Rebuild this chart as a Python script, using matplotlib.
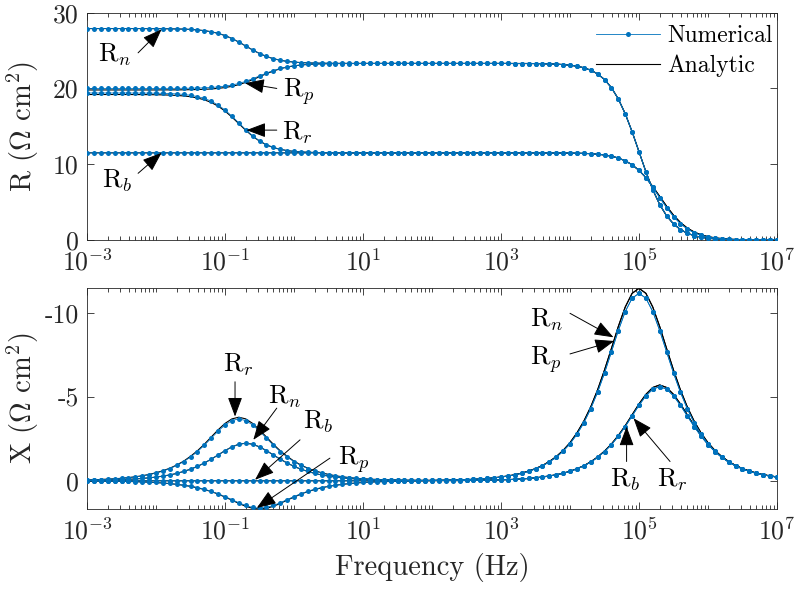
import numpy as np
import matplotlib.pyplot as plt
from matplotlib.ticker import NullFormatter

plt.rcParams['font.family'] = 'cmr10'
plt.rcParams['mathtext.fontset'] = 'cm'
plt.rcParams['axes.formatter.use_mathtext'] = True
plt.rcParams['axes.unicode_minus'] = False

# Frequency grid, 10 points per decade from 1e-3 to 1e7 Hz
freq = np.logspace(-3, 7, 101)

# ---- Resistance R (Ohm cm^2), rows = one decade each ----
R_n_num = [27.90, 27.90, 27.90, 27.90, 27.90, 27.90, 27.90, 27.90, 27.90, 27.89,
           27.89, 27.88, 27.87, 27.85, 27.83, 27.79, 27.72, 27.63, 27.48, 27.27,
           26.98, 26.59, 26.12, 25.60, 25.08, 24.61, 24.22, 23.93, 23.72, 23.57,
           23.48, 23.41, 23.37, 23.35, 23.33, 23.32, 23.31, 23.31, 23.30, 23.30,
           23.30, 23.30, 23.30, 23.30, 23.30, 23.30, 23.30, 23.30, 23.30, 23.30,
           23.30, 23.30, 23.30, 23.30, 23.30, 23.30, 23.30, 23.30, 23.30, 23.30,
           23.30, 23.30, 23.29, 23.29, 23.29, 23.28, 23.26, 23.24, 23.21, 23.15,
           23.07, 22.94, 22.73, 22.41, 21.92, 21.18, 20.11, 18.62, 16.67, 14.29,
           11.65, 9.01, 6.63, 4.68, 3.19, 2.12, 1.38, 0.89, 0.57, 0.36,
           0.23, 0.15, 0.09, 0.06, 0.04, 0.02, 0.01, 0.01, 0.01, 0.00,
           0.00]
R_n_ana = [27.90, 27.90, 27.90, 27.90, 27.90, 27.90, 27.90, 27.90, 27.90, 27.89,
           27.89, 27.88, 27.87, 27.85, 27.83, 27.79, 27.72, 27.63, 27.48, 27.27,
           26.98, 26.59, 26.12, 25.60, 25.08, 24.61, 24.22, 23.93, 23.72, 23.57,
           23.48, 23.41, 23.37, 23.35, 23.33, 23.32, 23.31, 23.31, 23.30, 23.30,
           23.30, 23.30, 23.30, 23.30, 23.30, 23.30, 23.30, 23.30, 23.30, 23.30,
           23.30, 23.30, 23.30, 23.30, 23.30, 23.30, 23.30, 23.30, 23.30, 23.30,
           23.30, 23.30, 23.29, 23.29, 23.29, 23.28, 23.26, 23.24, 23.21, 23.15,
           23.07, 22.94, 22.73, 22.41, 21.92, 21.18, 20.11, 18.62, 16.67, 14.29,
           11.65, 9.01, 6.63, 4.68, 3.19, 2.12, 1.38, 0.89, 0.57, 0.36,
           0.23, 0.15, 0.09, 0.06, 0.04, 0.02, 0.01, 0.01, 0.01, 0.00,
           0.00]
R_p_num = [20.00, 20.00, 20.00, 20.00, 20.00, 20.00, 20.00, 20.00, 20.00, 20.00,
           20.00, 20.01, 20.01, 20.01, 20.02, 20.03, 20.05, 20.08, 20.13, 20.20,
           20.30, 20.45, 20.66, 20.94, 21.28, 21.65, 22.02, 22.36, 22.64, 22.85,
           23.00, 23.10, 23.17, 23.22, 23.25, 23.27, 23.28, 23.29, 23.29, 23.30,
           23.30, 23.30, 23.30, 23.30, 23.30, 23.30, 23.30, 23.30, 23.30, 23.30,
           23.30, 23.30, 23.30, 23.30, 23.30, 23.30, 23.30, 23.30, 23.30, 23.30,
           23.30, 23.30, 23.29, 23.29, 23.29, 23.28, 23.26, 23.24, 23.21, 23.15,
           23.07, 22.94, 22.73, 22.41, 21.92, 21.18, 20.11, 18.62, 16.67, 14.29,
           11.65, 9.01, 6.63, 4.68, 3.19, 2.12, 1.38, 0.89, 0.57, 0.36,
           0.23, 0.15, 0.09, 0.06, 0.04, 0.02, 0.01, 0.01, 0.01, 0.00,
           0.00]
R_p_ana = [19.80, 19.80, 19.80, 19.80, 19.80, 19.80, 19.80, 19.80, 19.80, 19.80,
           19.80, 19.81, 19.81, 19.81, 19.82, 19.84, 19.86, 19.89, 19.93, 20.01,
           20.12, 20.28, 20.50, 20.80, 21.15, 21.55, 21.95, 22.30, 22.60, 22.82,
           22.98, 23.09, 23.17, 23.21, 23.25, 23.27, 23.28, 23.29, 23.29, 23.29,
           23.30, 23.30, 23.30, 23.30, 23.30, 23.30, 23.30, 23.30, 23.30, 23.30,
           23.30, 23.30, 23.30, 23.30, 23.30, 23.30, 23.30, 23.30, 23.30, 23.30,
           23.30, 23.30, 23.29, 23.29, 23.29, 23.28, 23.26, 23.24, 23.21, 23.15,
           23.07, 22.94, 22.73, 22.41, 21.92, 21.18, 20.11, 18.62, 16.67, 14.29,
           11.65, 9.01, 6.63, 4.68, 3.19, 2.12, 1.38, 0.89, 0.57, 0.36,
           0.23, 0.15, 0.09, 0.06, 0.04, 0.02, 0.01, 0.01, 0.01, 0.00,
           0.00]
R_r_num = [19.40, 19.40, 19.40, 19.40, 19.40, 19.40, 19.40, 19.39, 19.39, 19.38,
           19.37, 19.35, 19.32, 19.28, 19.21, 19.10, 18.93, 18.68, 18.32, 17.81,
           17.15, 16.34, 15.45, 14.56, 13.75, 13.09, 12.58, 12.22, 11.97, 11.80,
           11.69, 11.62, 11.58, 11.55, 11.53, 11.52, 11.51, 11.51, 11.50, 11.50,
           11.50, 11.50, 11.50, 11.50, 11.50, 11.50, 11.50, 11.50, 11.50, 11.50,
           11.50, 11.50, 11.50, 11.50, 11.50, 11.50, 11.50, 11.50, 11.50, 11.50,
           11.50, 11.50, 11.50, 11.50, 11.50, 11.50, 11.50, 11.49, 11.49, 11.48,
           11.47, 11.45, 11.43, 11.39, 11.32, 11.22, 11.06, 10.82, 10.45, 9.93,
           9.19, 8.23, 6.95, 5.60, 4.28, 3.10, 2.16, 1.46, 0.96, 0.62,
           0.40, 0.26, 0.16, 0.10, 0.06, 0.04, 0.03, 0.02, 0.01, 0.01,
           0.00]
R_r_ana = [19.20, 19.20, 19.20, 19.20, 19.20, 19.20, 19.20, 19.19, 19.19, 19.18,
           19.17, 19.15, 19.12, 19.08, 19.01, 18.91, 18.74, 18.50, 18.15, 17.66,
           17.01, 16.22, 15.35, 14.48, 13.69, 13.05, 12.55, 12.20, 11.96, 11.80,
           11.69, 11.62, 11.58, 11.55, 11.53, 11.52, 11.51, 11.51, 11.50, 11.50,
           11.50, 11.50, 11.50, 11.50, 11.50, 11.50, 11.50, 11.50, 11.50, 11.50,
           11.50, 11.50, 11.50, 11.50, 11.50, 11.50, 11.50, 11.50, 11.50, 11.50,
           11.50, 11.50, 11.50, 11.50, 11.50, 11.50, 11.50, 11.49, 11.49, 11.48,
           11.47, 11.45, 11.43, 11.39, 11.32, 11.22, 11.06, 10.82, 10.45, 9.93,
           9.19, 8.23, 7.05, 5.75, 4.45, 3.27, 2.31, 1.57, 1.05, 0.68,
           0.44, 0.28, 0.18, 0.11, 0.07, 0.05, 0.03, 0.02, 0.01, 0.01,
           0.00]
R_b_num = [11.50, 11.50, 11.50, 11.50, 11.50, 11.50, 11.50, 11.50, 11.50, 11.50,
           11.50, 11.50, 11.50, 11.50, 11.50, 11.50, 11.50, 11.50, 11.50, 11.50,
           11.50, 11.50, 11.50, 11.50, 11.50, 11.50, 11.50, 11.50, 11.50, 11.50,
           11.50, 11.50, 11.50, 11.50, 11.50, 11.50, 11.50, 11.50, 11.50, 11.50,
           11.50, 11.50, 11.50, 11.50, 11.50, 11.50, 11.50, 11.50, 11.50, 11.50,
           11.50, 11.50, 11.50, 11.50, 11.50, 11.50, 11.50, 11.50, 11.50, 11.50,
           11.50, 11.50, 11.50, 11.50, 11.50, 11.50, 11.50, 11.49, 11.49, 11.48,
           11.47, 11.45, 11.43, 11.39, 11.32, 11.22, 11.06, 10.82, 10.45, 9.93,
           9.19, 8.23, 6.95, 5.60, 4.28, 3.10, 2.16, 1.46, 0.96, 0.62,
           0.40, 0.26, 0.16, 0.10, 0.06, 0.04, 0.03, 0.02, 0.01, 0.01,
           0.00]
R_b_ana = [11.50, 11.50, 11.50, 11.50, 11.50, 11.50, 11.50, 11.50, 11.50, 11.50,
           11.50, 11.50, 11.50, 11.50, 11.50, 11.50, 11.50, 11.50, 11.50, 11.50,
           11.50, 11.50, 11.50, 11.50, 11.50, 11.50, 11.50, 11.50, 11.50, 11.50,
           11.50, 11.50, 11.50, 11.50, 11.50, 11.50, 11.50, 11.50, 11.50, 11.50,
           11.50, 11.50, 11.50, 11.50, 11.50, 11.50, 11.50, 11.50, 11.50, 11.50,
           11.50, 11.50, 11.50, 11.50, 11.50, 11.50, 11.50, 11.50, 11.50, 11.50,
           11.50, 11.50, 11.50, 11.50, 11.50, 11.50, 11.50, 11.49, 11.49, 11.48,
           11.47, 11.45, 11.43, 11.39, 11.32, 11.22, 11.06, 10.82, 10.45, 9.93,
           9.19, 8.23, 7.05, 5.75, 4.45, 3.27, 2.31, 1.57, 1.05, 0.68,
           0.44, 0.28, 0.18, 0.11, 0.07, 0.05, 0.03, 0.02, 0.01, 0.01,
           0.00]

# ---- Reactance X (Ohm cm^2) ----
X_n_num = [-0.02, -0.03, -0.04, -0.05, -0.06, -0.07, -0.09, -0.11, -0.14, -0.18,
           -0.22, -0.28, -0.35, -0.44, -0.56, -0.69, -0.86, -1.06, -1.29, -1.54,
           -1.80, -2.02, -2.18, -2.24, -2.18, -2.02, -1.80, -1.54, -1.29, -1.06,
           -0.86, -0.69, -0.56, -0.44, -0.35, -0.28, -0.22, -0.18, -0.14, -0.11,
           -0.09, -0.07, -0.06, -0.05, -0.04, -0.04, -0.03, -0.03, -0.03, -0.03,
           -0.03, -0.04, -0.04, -0.05, -0.06, -0.07, -0.09, -0.11, -0.14, -0.18,
           -0.22, -0.28, -0.35, -0.45, -0.56, -0.71, -0.89, -1.12, -1.40, -1.76,
           -2.21, -2.77, -3.45, -4.29, -5.28, -6.42, -7.68, -8.95, -10.08, -10.88,
           -11.17, -10.88, -10.08, -8.95, -7.68, -6.42, -5.28, -4.29, -3.45, -2.77,
           -2.21, -1.76, -1.40, -1.12, -0.89, -0.71, -0.56, -0.45, -0.35, -0.28,
           -0.22]
X_n_ana = [-0.02, -0.03, -0.04, -0.05, -0.06, -0.07, -0.09, -0.11, -0.14, -0.18,
           -0.22, -0.28, -0.35, -0.44, -0.56, -0.69, -0.86, -1.06, -1.29, -1.54,
           -1.80, -2.02, -2.18, -2.24, -2.18, -2.02, -1.80, -1.54, -1.29, -1.06,
           -0.86, -0.69, -0.56, -0.44, -0.35, -0.28, -0.22, -0.18, -0.14, -0.11,
           -0.09, -0.07, -0.06, -0.05, -0.04, -0.04, -0.03, -0.03, -0.03, -0.03,
           -0.03, -0.04, -0.04, -0.05, -0.06, -0.07, -0.09, -0.11, -0.14, -0.18,
           -0.23, -0.29, -0.36, -0.46, -0.58, -0.73, -0.91, -1.15, -1.44, -1.81,
           -2.27, -2.85, -3.55, -4.40, -5.42, -6.60, -7.88, -9.19, -10.35, -11.17,
           -11.47, -11.17, -10.35, -9.19, -7.88, -6.60, -5.42, -4.40, -3.55, -2.85,
           -2.27, -1.81, -1.44, -1.15, -0.91, -0.73, -0.58, -0.46, -0.36, -0.29,
           -0.23]
X_p_num = [0.01, 0.01, 0.02, 0.02, 0.03, 0.03, 0.04, 0.05, 0.07, 0.08,
           0.10, 0.13, 0.16, 0.21, 0.26, 0.32, 0.40, 0.50, 0.63, 0.77,
           0.94, 1.12, 1.31, 1.47, 1.59, 1.63, 1.59, 1.47, 1.31, 1.12,
           0.94, 0.77, 0.63, 0.50, 0.40, 0.32, 0.26, 0.21, 0.16, 0.13,
           0.10, 0.08, 0.06, 0.05, 0.04, 0.03, 0.02, 0.01, 0.00, -0.01,
           -0.01, -0.02, -0.03, -0.04, -0.05, -0.07, -0.09, -0.11, -0.14, -0.18,
           -0.22, -0.28, -0.35, -0.45, -0.56, -0.71, -0.89, -1.12, -1.40, -1.76,
           -2.21, -2.77, -3.45, -4.29, -5.28, -6.42, -7.68, -8.95, -10.08, -10.88,
           -11.17, -10.88, -10.08, -8.95, -7.68, -6.42, -5.28, -4.29, -3.45, -2.77,
           -2.21, -1.76, -1.40, -1.12, -0.89, -0.71, -0.56, -0.45, -0.35, -0.28,
           -0.22]
X_p_ana = [0.01, 0.01, 0.02, 0.02, 0.03, 0.03, 0.04, 0.05, 0.07, 0.08,
           0.11, 0.13, 0.17, 0.21, 0.27, 0.33, 0.42, 0.52, 0.64, 0.79,
           0.97, 1.15, 1.35, 1.52, 1.64, 1.68, 1.64, 1.52, 1.35, 1.15,
           0.97, 0.79, 0.64, 0.52, 0.42, 0.33, 0.27, 0.21, 0.17, 0.13,
           0.10, 0.08, 0.06, 0.05, 0.04, 0.03, 0.02, 0.01, 0.00, -0.01,
           -0.01, -0.02, -0.03, -0.04, -0.05, -0.07, -0.09, -0.11, -0.14, -0.18,
           -0.23, -0.29, -0.36, -0.46, -0.58, -0.73, -0.91, -1.15, -1.44, -1.81,
           -2.27, -2.85, -3.55, -4.40, -5.42, -6.60, -7.88, -9.19, -10.35, -11.17,
           -11.47, -11.17, -10.35, -9.19, -7.88, -6.60, -5.42, -4.40, -3.55, -2.85,
           -2.27, -1.81, -1.44, -1.15, -0.91, -0.73, -0.58, -0.46, -0.36, -0.29,
           -0.23]
X_r_num = [-0.05, -0.06, -0.07, -0.09, -0.12, -0.15, -0.19, -0.23, -0.29, -0.37,
           -0.46, -0.58, -0.73, -0.92, -1.14, -1.42, -1.74, -2.12, -2.54, -2.96,
           -3.33, -3.59, -3.69, -3.59, -3.33, -2.96, -2.54, -2.12, -1.74, -1.42,
           -1.14, -0.92, -0.73, -0.58, -0.46, -0.37, -0.29, -0.23, -0.19, -0.15,
           -0.12, -0.09, -0.07, -0.06, -0.05, -0.04, -0.03, -0.03, -0.02, -0.02,
           -0.02, -0.02, -0.02, -0.02, -0.02, -0.02, -0.03, -0.03, -0.04, -0.05,
           -0.06, -0.07, -0.09, -0.11, -0.14, -0.18, -0.22, -0.28, -0.36, -0.45,
           -0.56, -0.71, -0.89, -1.11, -1.39, -1.74, -2.15, -2.65, -3.23, -3.86,
           -4.50, -5.06, -5.46, -5.61, -5.46, -5.06, -4.50, -3.86, -3.23, -2.65,
           -2.15, -1.74, -1.39, -1.11, -0.89, -0.71, -0.56, -0.45, -0.36, -0.28,
           -0.22]
X_r_ana = [-0.05, -0.06, -0.08, -0.10, -0.12, -0.15, -0.19, -0.24, -0.30, -0.38,
           -0.48, -0.60, -0.75, -0.94, -1.17, -1.46, -1.79, -2.18, -2.61, -3.04,
           -3.42, -3.69, -3.79, -3.69, -3.42, -3.04, -2.61, -2.18, -1.79, -1.46,
           -1.17, -0.94, -0.75, -0.60, -0.48, -0.38, -0.30, -0.24, -0.19, -0.15,
           -0.12, -0.10, -0.08, -0.06, -0.05, -0.04, -0.03, -0.03, -0.02, -0.02,
           -0.02, -0.02, -0.02, -0.02, -0.02, -0.02, -0.03, -0.03, -0.04, -0.05,
           -0.06, -0.07, -0.09, -0.11, -0.14, -0.18, -0.23, -0.29, -0.36, -0.45,
           -0.57, -0.72, -0.90, -1.13, -1.42, -1.77, -2.19, -2.70, -3.28, -3.93,
           -4.58, -5.15, -5.56, -5.71, -5.56, -5.15, -4.58, -3.93, -3.28, -2.70,
           -2.19, -1.77, -1.42, -1.13, -0.90, -0.72, -0.57, -0.45, -0.36, -0.29,
           -0.23]
X_b_num = [0.00, 0.00, 0.00, 0.00, 0.00, 0.00, 0.00, 0.00, 0.00, 0.00,
           0.00, 0.00, 0.00, 0.00, 0.00, 0.00, 0.00, 0.00, 0.00, 0.00,
           0.00, 0.00, 0.00, 0.00, 0.00, 0.00, 0.00, 0.00, 0.00, 0.00,
           0.00, 0.00, 0.00, 0.00, 0.00, 0.00, 0.00, 0.00, 0.00, 0.00,
           0.00, 0.00, 0.00, 0.00, 0.00, 0.00, 0.00, 0.00, 0.00, 0.00,
           -0.01, -0.01, -0.01, -0.01, -0.01, -0.02, -0.02, -0.03, -0.04, -0.04,
           -0.06, -0.07, -0.09, -0.11, -0.14, -0.18, -0.22, -0.28, -0.36, -0.45,
           -0.56, -0.71, -0.89, -1.11, -1.39, -1.74, -2.15, -2.65, -3.23, -3.86,
           -4.50, -5.06, -5.46, -5.61, -5.46, -5.06, -4.50, -3.86, -3.23, -2.65,
           -2.15, -1.74, -1.39, -1.11, -0.89, -0.71, -0.56, -0.45, -0.36, -0.28,
           -0.22]
X_b_ana = [0.00, 0.00, 0.00, 0.00, 0.00, 0.00, 0.00, 0.00, 0.00, 0.00,
           0.00, 0.00, 0.00, 0.00, 0.00, 0.00, 0.00, 0.00, 0.00, 0.00,
           0.00, 0.00, 0.00, 0.00, 0.00, 0.00, 0.00, 0.00, 0.00, 0.00,
           0.00, 0.00, 0.00, 0.00, 0.00, 0.00, 0.00, 0.00, 0.00, 0.00,
           0.00, 0.00, 0.00, 0.00, 0.00, 0.00, 0.00, 0.00, 0.00, 0.00,
           -0.01, -0.01, -0.01, -0.01, -0.01, -0.02, -0.02, -0.03, -0.04, -0.04,
           -0.06, -0.07, -0.09, -0.11, -0.14, -0.18, -0.23, -0.29, -0.36, -0.45,
           -0.57, -0.72, -0.90, -1.13, -1.42, -1.77, -2.19, -2.70, -3.28, -3.93,
           -4.58, -5.15, -5.56, -5.71, -5.56, -5.15, -4.58, -3.93, -3.28, -2.70,
           -2.19, -1.77, -1.42, -1.13, -0.90, -0.72, -0.57, -0.45, -0.36, -0.29,
           -0.23]

R_num = [R_n_num, R_p_num, R_r_num, R_b_num]
R_ana = [R_n_ana, R_p_ana, R_r_ana, R_b_ana]
X_num = [X_n_num, X_p_num, X_r_num, X_b_num]
X_ana = [X_n_ana, X_p_ana, X_r_ana, X_b_ana]
for arr in R_num + R_ana + X_num + X_ana:
    assert len(arr) == len(freq), len(arr)

blue = '#0072BD'
axcol = '#262626'
tick_fs = 18.5
label_fs = 20.5
ann_fs = 19

fig = plt.figure(figsize=(7.97, 5.92), dpi=100)
ax1 = fig.add_axes([0.1092, 0.5946, 0.8657, 0.3840])
ax2 = fig.add_axes([0.1092, 0.1402, 0.8657, 0.3728])

for ax, ana, num in [(ax1, R_ana, R_num), (ax2, X_ana, X_num)]:
    for a in ana:
        l_ana, = ax.semilogx(freq, a, color='k', lw=0.8, zorder=2)
    for n in num:
        l_num, = ax.semilogx(freq, n, color=blue, lw=0.6, marker='o',
                             ms=3.6, mew=0, zorder=3)

# axes styling (MATLAB-like box with inward ticks)
major = [1e-3, 1e-1, 1e1, 1e3, 1e5, 1e7]
minor = [k * 10.0 ** e for e in range(-3, 7) for k in range(1, 10)
         if k * 10.0 ** e not in major]
for ax in (ax1, ax2):
    ax.set_xlim(1e-3, 1e7)
    ax.set_xticks(major)
    ax.set_xticks(minor, minor=True)
    ax.xaxis.set_minor_formatter(NullFormatter())
    ax.tick_params(which='both', direction='in', top=True, right=True,
                   colors=axcol, width=0.6)
    ax.tick_params(which='major', length=5, labelsize=tick_fs)
    ax.tick_params(axis='y', pad=6)
    ax.tick_params(axis='x', pad=6.5)
    ax.tick_params(which='minor', length=2.8)
    for s in ax.spines.values():
        s.set_color(axcol)
        s.set_linewidth(0.6)

ax1.set_ylim(0, 30)
ax1.set_yticks([0, 10, 20, 30])
ax1.set_yticklabels(['0', '10', '20', '30'])
ax2.set_ylim(1.68, -11.47)
ax2.set_yticks([-10, -5, 0])
ax2.set_yticklabels(['-10', '-5', '0'])

ax1.set_ylabel(r'R ($\Omega$ cm$^2$)', fontsize=label_fs, color=axcol)
ax2.set_ylabel(r'X ($\Omega$ cm$^2$)', fontsize=label_fs, color=axcol)
ax1.yaxis.set_label_coords(-0.066, 0.5)
ax2.yaxis.set_label_coords(-0.066, 0.5)
ax2.set_xlabel('Frequency (Hz)', fontsize=label_fs, color=axcol)
ax2.xaxis.set_label_coords(0.5, -0.2)

ax1.legend([l_num, l_ana], ['Numerical', 'Analytic'], loc='upper right',
           bbox_to_anchor=(1.0, 0.965), frameon=False, fontsize=17,
           handlelength=2.7, numpoints=1, handletextpad=0.3,
           labelspacing=0.3, borderpad=0.1, borderaxespad=0.1)

arrow = dict(arrowstyle='-|>,head_length=1.2,head_width=0.45', color='k',
             lw=0.7, shrinkA=0, shrinkB=0, mutation_scale=10)


def label(ax, text, tx, ty, head, tail):
    ax.text(10 ** tx, ty, text, fontsize=ann_fs, ha='left', va='baseline')
    ax.annotate('', xy=(10 ** head[0], head[1]),
                xytext=(10 ** tail[0], tail[1]), arrowprops=arrow)


# top panel annotations (log10 f, R)
label(ax1, r'R$_n$', -2.84, 23.5, (-1.92, 27.8), (-2.26, 24.7))
label(ax1, r'R$_p$', -0.16, 18.9, (-0.71, 20.7), (-0.25, 20.0))
label(ax1, r'R$_r$', -0.18, 13.2, (-0.69, 14.5), (-0.25, 14.5))
label(ax1, r'R$_b$', -2.79, 6.9, (-1.92, 11.5), (-2.26, 8.8))

# bottom panel annotations (log10 f, X)
label(ax2, r'R$_r$', -1.03, -6.5, (-0.855, -3.83), (-0.855, -5.9))
label(ax2, r'R$_n$', -0.37, -4.6, (-0.59, -2.44), (-0.25, -4.33))
label(ax2, r'R$_b$', 0.135, -3.14, (-0.565, -0.06), (0.087, -2.44))
label(ax2, r'R$_p$', 0.64, -0.95, (-0.54, 1.62), (0.52, -1.35))
label(ax2, r'R$_n$', 3.42, -9.18, (4.63, -8.55), (4.0, -9.98))
label(ax2, r'R$_p$', 3.42, -6.9, (4.64, -8.33), (4.0, -7.56))
label(ax2, r'R$_b$', 4.58, 0.34, (4.82, -3.23), (4.82, -1.15))
label(ax2, r'R$_r$', 5.26, 0.34, (4.92, -3.73), (5.45, -1.15))

fig.savefig('out.png', dpi=100)
